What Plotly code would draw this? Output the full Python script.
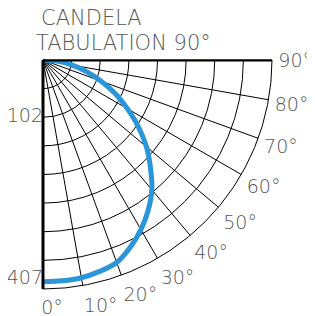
import plotly.graph_objects as go

angles = [0, 5, 10, 15, 20, 25, 30, 35, 40, 45, 50, 55, 60, 65, 70, 75, 80, 85, 90]
candela = [394, 394, 393, 389, 383, 367, 348, 326, 301, 270, 240, 207, 173, 142, 110, 80, 53, 28, 3]

r_max = 407
ring_vals = [r_max * k / 8 for k in range(1, 9)]
label_r = [r_max * 2 / 8, r_max]
label_text = ["102", "407"]
ang_ticks = list(range(0, 100, 10))
ang_text = ["\u00a0\u00a0\u00a00°"] + [f"{a}°" for a in ang_ticks[1:]]

font_fam = "DejaVu Sans, Open Sans, sans-serif"
gray = "#555555"
OFF = 8  # page body margin

fig = go.Figure()
fig.add_trace(go.Scatterpolar(
    r=candela, theta=angles, mode="lines",
    line=dict(color="#2a95d8", width=5, shape="spline"),
    hoverinfo="skip", showlegend=False))
fig.add_trace(go.Scatterpolar(
    r=[0, r_max], theta=[90, 90], mode="lines",
    line=dict(color="black", width=3), hoverinfo="skip", showlegend=False))
fig.add_trace(go.Scatterpolar(
    r=label_r, theta=[0, 0], mode="text", text=label_text,
    textposition=["middle left", "top left"],
    textfont=dict(family=font_fam, size=19, color=gray, weight=200),
    hoverinfo="skip", showlegend=False, cliponaxis=False))

L, T, D = 43 - OFF, 60 - OFF, 229
fig.update_layout(
    width=315, height=316,
    margin=dict(l=L, r=315 - L - D, t=T, b=316 - T - D),
    paper_bgcolor="white", plot_bgcolor="white",
    polar=dict(
        bgcolor="white",
        sector=[-90, 0],
        radialaxis=dict(
            range=[0, r_max], tickmode="array", tickvals=ring_vals,
            showticklabels=False,
            showline=True, linecolor="black", linewidth=3,
            gridcolor="black", gridwidth=1, ticks="", angle=-90,
        ),
        angularaxis=dict(
            rotation=-90, direction="counterclockwise",
            tickmode="array", tickvals=ang_ticks, ticktext=ang_text,
            showline=True, linecolor="black", linewidth=1,
            gridcolor="black", gridwidth=1,
            ticks="outside", ticklen=2, tickcolor="rgba(0,0,0,0)",
            tickfont=dict(family=font_fam, size=19, color=gray, weight=200),
        ),
    ),
)

def ann(text, px, py):
    return dict(text=text, x=(px - OFF - L) / D, y=(T + D - (py - OFF)) / D,
                xref="paper", yref="paper", xanchor="left", yanchor="bottom",
                showarrow=False, borderpad=0,
                font=dict(family=font_fam, size=21, color=gray, weight=200))

fig.update_layout(annotations=[ann("CANDELA", 40, 31), ann("TABULATION 90°", 35, 56)])
fig.write_html("out.html")
